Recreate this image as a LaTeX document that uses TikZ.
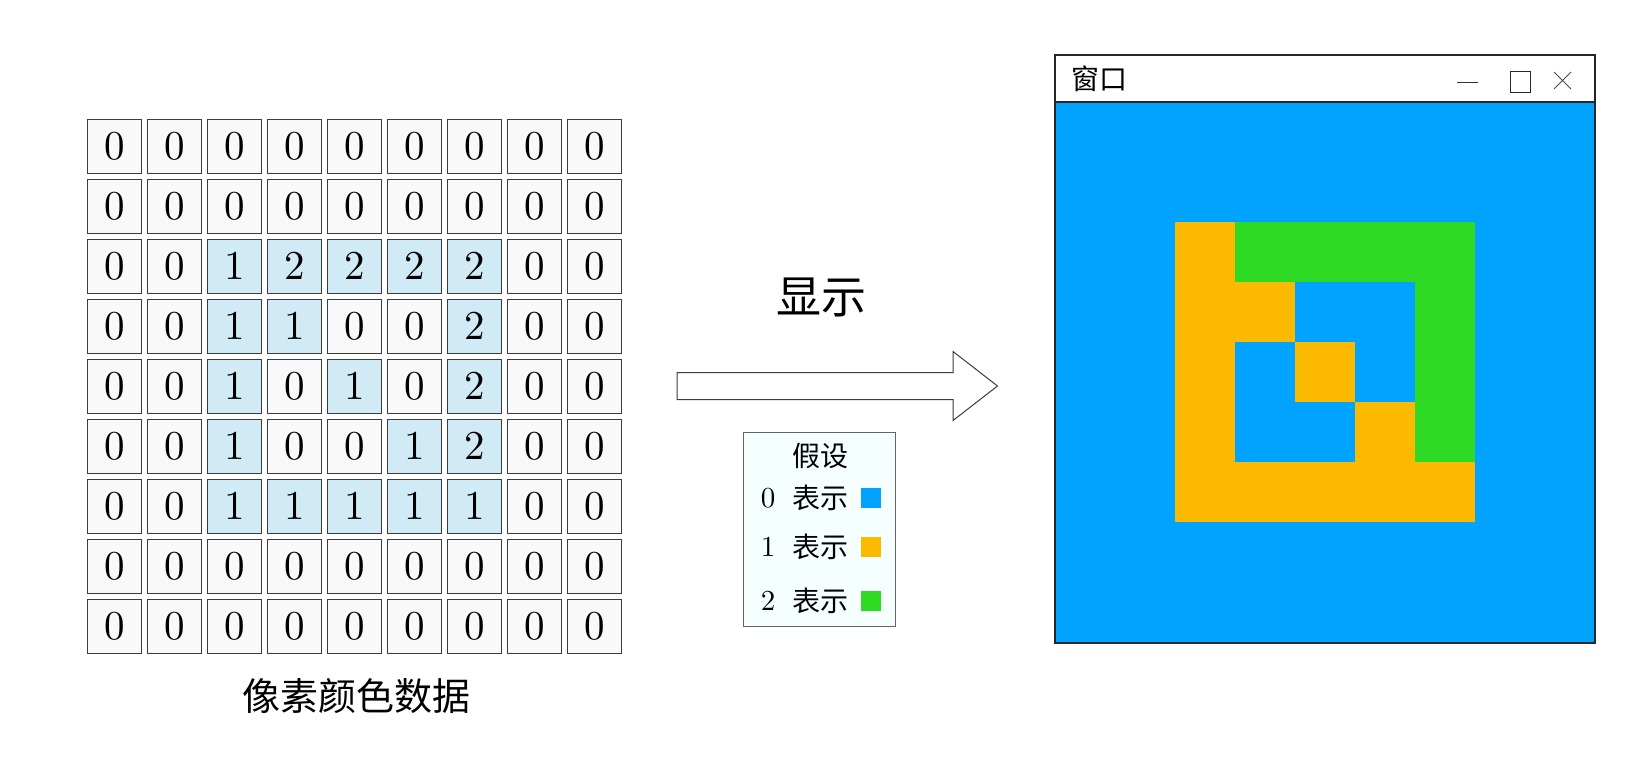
\documentclass[tikz,border=0pt]{standalone}
\usepackage{fontspec}
\newfontfamily\cjk{Noto Sans CJK SC}
\newfontfamily\lmten{lmroman10-regular}[Extension=.otf]
\definecolor{pxblue}{RGB}{0,163,255}
\definecolor{pxorange}{RGB}{251,185,0}
\definecolor{pxgreen}{RGB}{46,218,36}
\definecolor{cellw}{RGB}{249,249,249}
\definecolor{cellb}{RGB}{208,235,245}
\definecolor{lineg}{RGB}{60,60,60}
\definecolor{legfill}{RGB}{246,255,255}
\tikzset{
  cellbox/.style={draw=lineg, line width=1pt, minimum width=54pt, minimum height=54pt, inner sep=0pt, font=\lmten\fontsize{41}{48}\selectfont},
  legtext/.style={inner sep=0pt, font=\lmten\fontsize{29}{33}\selectfont},
  legcjk/.style={inner sep=0pt, font=\cjk\fontsize{28}{32}\selectfont},
  legsq/.style={minimum size=20pt, inner sep=0pt},
  cjktitle/.style={inner sep=0pt, font=\cjk\fontsize{45}{50}\selectfont},
}
\begin{document}
\begin{tikzpicture}[x=1pt,y=-1pt]
\useasboundingbox (0,0) rectangle (1644,760);
% data grid
\foreach \row [count=\r from 0] in {
  {0,0,0,0,0,0,0,0,0},
  {0,0,0,0,0,0,0,0,0},
  {0,0,1,2,2,2,2,0,0},
  {0,0,1,1,0,0,2,0,0},
  {0,0,1,0,1,0,2,0,0},
  {0,0,1,0,0,1,2,0,0},
  {0,0,1,1,1,1,1,0,0},
  {0,0,0,0,0,0,0,0,0},
  {0,0,0,0,0,0,0,0,0}} {
  \foreach \v [count=\c from 0] in \row {
    \ifnum\v=0 \def\cf{cellw}\else\def\cf{cellb}\fi
    \node[cellbox, fill=\cf] (c-\r-\c) at (114.25+60*\c, 146+60*\r) {\v};
  }
}
\node[inner sep=0pt, font=\cjk\fontsize{38}{44}\selectfont] (caption) at (356,696) {像素颜色数据};
% title
\node[cjktitle] (show) at (821,297) {显示};
% block arrow
\draw[line width=1pt, draw=lineg, fill=white] (677,372.5) -- (953,372.5) -- (953,351.5) -- (997.5,386) -- (953,420.5) -- (953,399.5) -- (677,399.5) -- cycle;
% legend
\node[draw=lineg!80, line width=1pt, fill=legfill, minimum width=152pt, minimum height=194pt, inner sep=0pt] (legend) at (819,529) {};
\node[legcjk] (assume) at (820,456) {假设};
\node[legtext] (l0) at (768,498) {0};
\node[legcjk] (t0) at (820,498) {表示};
\node[legsq, fill=pxblue] (s0) at (871,498) {};
\node[legtext] (l1) at (768,547) {1};
\node[legcjk] (t1) at (820,547) {表示};
\node[legsq, fill=pxorange] (s1) at (871,547) {};
\node[legtext] (l2) at (768,601) {2};
\node[legcjk] (t2) at (820,601) {表示};
\node[legsq, fill=pxgreen] (s2) at (871,601) {};
% window
\fill[white] (1055,55) rectangle (1595,102);
\fill[pxblue] (1055,102) rectangle (1595,643);
\foreach \row [count=\r from 0] in {
  {0,0,0,0,0,0,0,0,0},
  {0,0,0,0,0,0,0,0,0},
  {0,0,1,2,2,2,2,0,0},
  {0,0,1,1,0,0,2,0,0},
  {0,0,1,0,1,0,2,0,0},
  {0,0,1,0,0,1,2,0,0},
  {0,0,1,1,1,1,1,0,0},
  {0,0,0,0,0,0,0,0,0},
  {0,0,0,0,0,0,0,0,0}} {
  \foreach \v [count=\c from 0] in \row {
    \ifnum\v=1 \fill[pxorange] (1055+60*\c,102+60*\r) rectangle ++(60,60);\fi
    \ifnum\v=2 \fill[pxgreen] (1055+60*\c,102+60*\r) rectangle ++(60,60);\fi
  }
}
\draw[line width=1.2pt, draw=black!85] (1055,55) rectangle (1595,643);
\draw[line width=1.2pt, draw=black!85] (1055,102) -- (1595,102);
\node[anchor=west, inner sep=0pt, font=\cjk\fontsize{28}{32}\selectfont] (wtitle) at (1071,79) {窗口};
\draw[line width=1pt, draw=black!80] (1457,83) -- (1478,83);
\draw[line width=1pt, draw=black!85] (1510,72) rectangle (1530,92);
\draw[line width=1pt, draw=black!70] (1554,72) -- (1571,89) (1571,72) -- (1554,89);
\end{tikzpicture}
\end{document}
